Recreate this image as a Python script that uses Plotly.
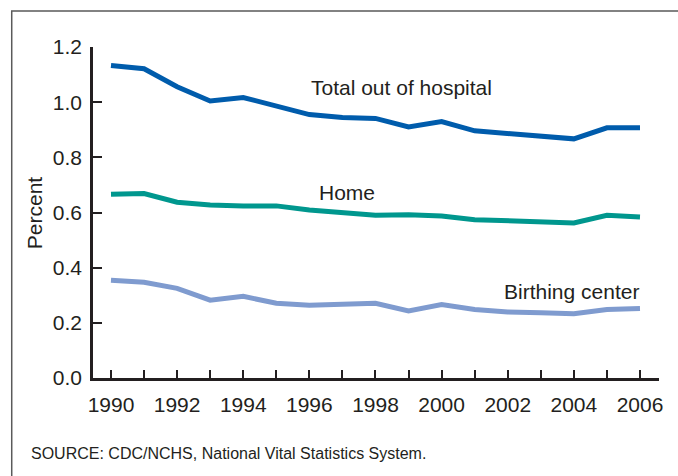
import plotly.graph_objects as go

years = list(range(1990, 2007))
total_out_of_hospital = [1.133, 1.121, 1.056, 1.004, 1.017, 0.985, 0.955, 0.944, 0.941,
                         0.910, 0.930, 0.896, 0.886, 0.876, 0.867, 0.907, 0.907]
home = [0.666, 0.669, 0.637, 0.627, 0.624, 0.624, 0.609, 0.598, 0.590,
        0.592, 0.587, 0.574, 0.569, 0.566, 0.562, 0.590, 0.584]
birthing_center = [0.354, 0.347, 0.325, 0.282, 0.296, 0.271, 0.264, 0.267, 0.271,
                   0.243, 0.266, 0.248, 0.239, 0.237, 0.233, 0.248, 0.252]

x_tick_vals = years
x_tick_text = [str(y) if y % 2 == 0 else "" for y in years]
y_tick_vals = [0.0, 0.2, 0.4, 0.6, 0.8, 1.0, 1.2]

FONT = "Liberation Sans, Arial, Helvetica, sans-serif"
TXT = "#231f20"

fig = go.Figure()
series = [
    ("Total out of hospital", total_out_of_hospital, "#005cac"),
    ("Home", home, "#00978e"),
    ("Birthing center", birthing_center, "#7f9bcf"),
]
for name, vals, col in series:
    fig.add_trace(go.Scatter(x=years, y=vals, mode="lines", name=name,
                             line=dict(color=col, width=5), hoverinfo="skip"))

fig.add_annotation(x=1996, y=1.052, text="Total out of hospital", showarrow=False,
                   xanchor="left", yanchor="middle", font=dict(size=21, color=TXT, family=FONT))
fig.add_annotation(x=1996.22, y=0.672, text="Home", showarrow=False,
                   xanchor="left", yanchor="middle", font=dict(size=21, color=TXT, family=FONT))
fig.add_annotation(x=2006.02, y=0.315, text="Birthing center", showarrow=False,
                   xanchor="right", yanchor="middle", font=dict(size=21, color=TXT, family=FONT))
fig.add_annotation(x=-0.103, y=0.5, xref="paper", yref="paper", text="Percent", textangle=-90,
                   showarrow=False, xanchor="center", yanchor="middle",
                   font=dict(size=21, color=TXT, family=FONT))
fig.add_annotation(x=-0.113, y=-0.229, xref="paper", yref="paper",
                   text="SOURCE: CDC/NCHS, National Vital Statistics System.",
                   showarrow=False, xanchor="left", yanchor="middle",
                   font=dict(size=16, color=TXT, family=FONT))

# outer frame (left and top edges visible)
fig.add_shape(type="path", xref="paper", yref="paper",
              path="M -0.1436,-0.4 L -0.1436,1.1088 L 1.1,1.1088",
              line=dict(color="#5a5a5a", width=1.5))

fig.update_layout(
    width=678, height=476,
    margin=dict(l=93, r=19, t=47, b=98),
    paper_bgcolor="white", plot_bgcolor="white",
    showlegend=False,
    font=dict(family=FONT, color=TXT, size=21),
    xaxis=dict(range=[1989.456, 2006.575], tickmode="array", tickvals=x_tick_vals,
               ticktext=x_tick_text, ticks="inside", ticklen=8, tickwidth=2.2,
               tickcolor=TXT, showline=True, linecolor=TXT, linewidth=2.6,
               showgrid=False, zeroline=False, ticklabelstandoff=6,
               tickfont=dict(size=21, color=TXT)),
    yaxis=dict(range=[0, 1.2], tickmode="array", tickvals=y_tick_vals, tickformat=".1f",
               ticks="inside", ticklen=9, tickwidth=2.2, tickcolor=TXT,
               showline=True, linecolor=TXT, linewidth=2.6, ticklabelstandoff=4,
               showgrid=False, zeroline=False, tickfont=dict(size=21, color=TXT)),
)

fig.write_html("out.html", config={"displayModeBar": False},
               post_script="document.body.style.margin='0';document.body.style.overflow='hidden';")
